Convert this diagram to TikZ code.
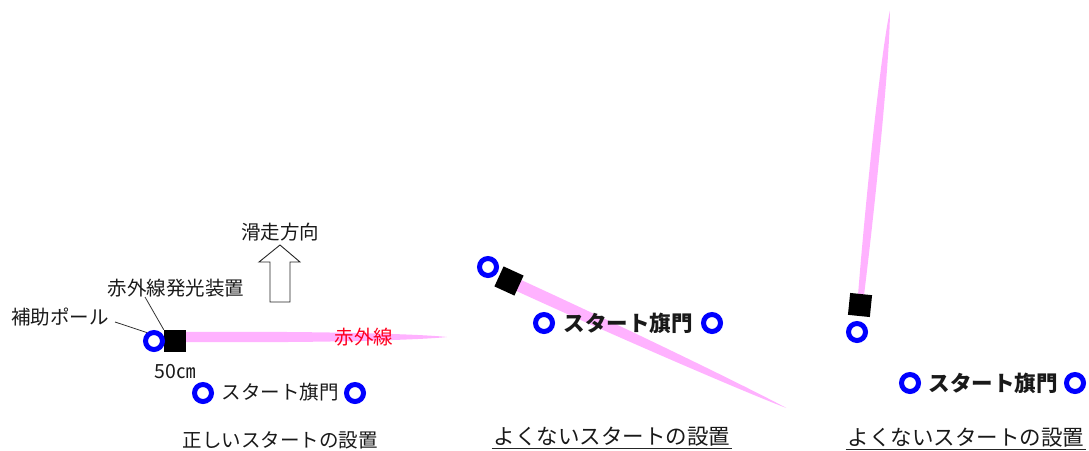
\documentclass[tikz,border=0pt]{standalone}
\usepackage{fontspec}
\newfontfamily\jp{Noto Sans CJK JP}
\definecolor{irpink}{RGB}{255,178,255}
\definecolor{poleblue}{RGB}{0,0,255}
\definecolor{irred}{RGB}{255,0,30}
\begin{document}
\begin{tikzpicture}[x=1pt,y=-1pt,
  txt/.style={font=\jp\fontsize{19.5}{22}\selectfont, inner sep=0pt, text=black!90},
  big/.style={font=\jp\bfseries\fontsize{21.5}{24}\selectfont, inner sep=0pt, text=black!90},
  captext/.style={font=\jp\fontsize{21.5}{24}\selectfont, inner sep=0pt, text=black!90},
  pole/.style={circle, draw=poleblue, line width=5pt, minimum size=17pt, inner sep=0pt},
  dev/.style={fill=black, minimum size=22pt, inner sep=0pt},
  leader/.style={draw=black!80, line width=0.8pt},
  uline/.style={draw=black!85, line width=1pt}]
\useasboundingbox (0,0) rectangle (1089,450);
% ---------- panel 1 ----------
\fill[irpink] (185,332) .. controls (320,331) and (420,334) .. (447,337) .. controls (420,340) and (320,343) .. (185,342) -- cycle;
\node[dev] (sq1) at (175,341) {};
\node[pole] (p1) at (154,341) {};
\node[txt, text=irred] (ir1) at (364,337) {赤外線};
\node[txt] (lab1) at (60,317) {補助ポール};
\node[txt] (lab2) at (176,288) {赤外線発光装置};
\coordinate (l1) at (115,322);
\coordinate (l2) at (145,297);
\draw[leader] (l1) -- (p1.130);
\draw[leader] (l2) -- (sq1.north west);
\node[txt] (dir) at (280,232) {滑走方向};
\draw[line width=0.9pt, draw=black!85, fill=white] (280,245) -- (300,262) -- (290,262) -- (290,302) -- (270,302) -- (270,262) -- (259,262) -- cycle;
\node[txt] (cm) at (175,372) {50㎝};
\node[pole] (g1a) at (203,393) {};
\node[pole] (g1b) at (355,393) {};
\node[txt] (g1t) at (280,392) {スタート旗門};
\node[txt] (cap1) at (280,440) {正しいスタートの設置};
% ---------- panel 2 ----------
\node[pole] (p2) at (488,267) {};
\begin{scope}[shift={(509,281)}, rotate=-24.6]
\fill[irpink] (10,-6) .. controls (120,-6) and (260,-3) .. (305,0) .. controls (260,3) and (120,6) .. (10,6) -- cycle;
\node[dev, transform shape] (sq2) at (0,0) {};
\end{scope}
\node[pole] (g2a) at (544,323) {};
\node[pole] (g2b) at (712,323) {};
\node[big] (g2t) at (628,323) {スタート旗門};
\node[captext] (cap2) at (612,437) {よくないスタートの設置};
\draw[uline] ([xshift=-2pt,yshift=-2pt]cap2.south west) -- ([xshift=2pt,yshift=-2pt]cap2.south east);
% ---------- panel 3 ----------
\begin{scope}[shift={(860,305)}, rotate=84.2]
\fill[irpink] (10,-3) .. controls (100,-5) and (250,-5) .. (296,0) .. controls (250,5) and (100,5) .. (10,3) -- cycle;
\node[dev, transform shape] (sq3) at (0,0) {};
\end{scope}
\node[pole] (p3) at (857,332) {};
\node[pole] (g3a) at (910,383) {};
\node[pole] (g3b) at (1075,383) {};
\node[big] (g3t) at (993,383) {スタート旗門};
\node[captext] (cap3) at (966,438) {よくないスタートの設置};
\draw[uline] ([xshift=-2pt,yshift=-1.5pt]cap3.south west) -- ([xshift=2pt,yshift=-1.5pt]cap3.south east);
\end{tikzpicture}
\end{document}
